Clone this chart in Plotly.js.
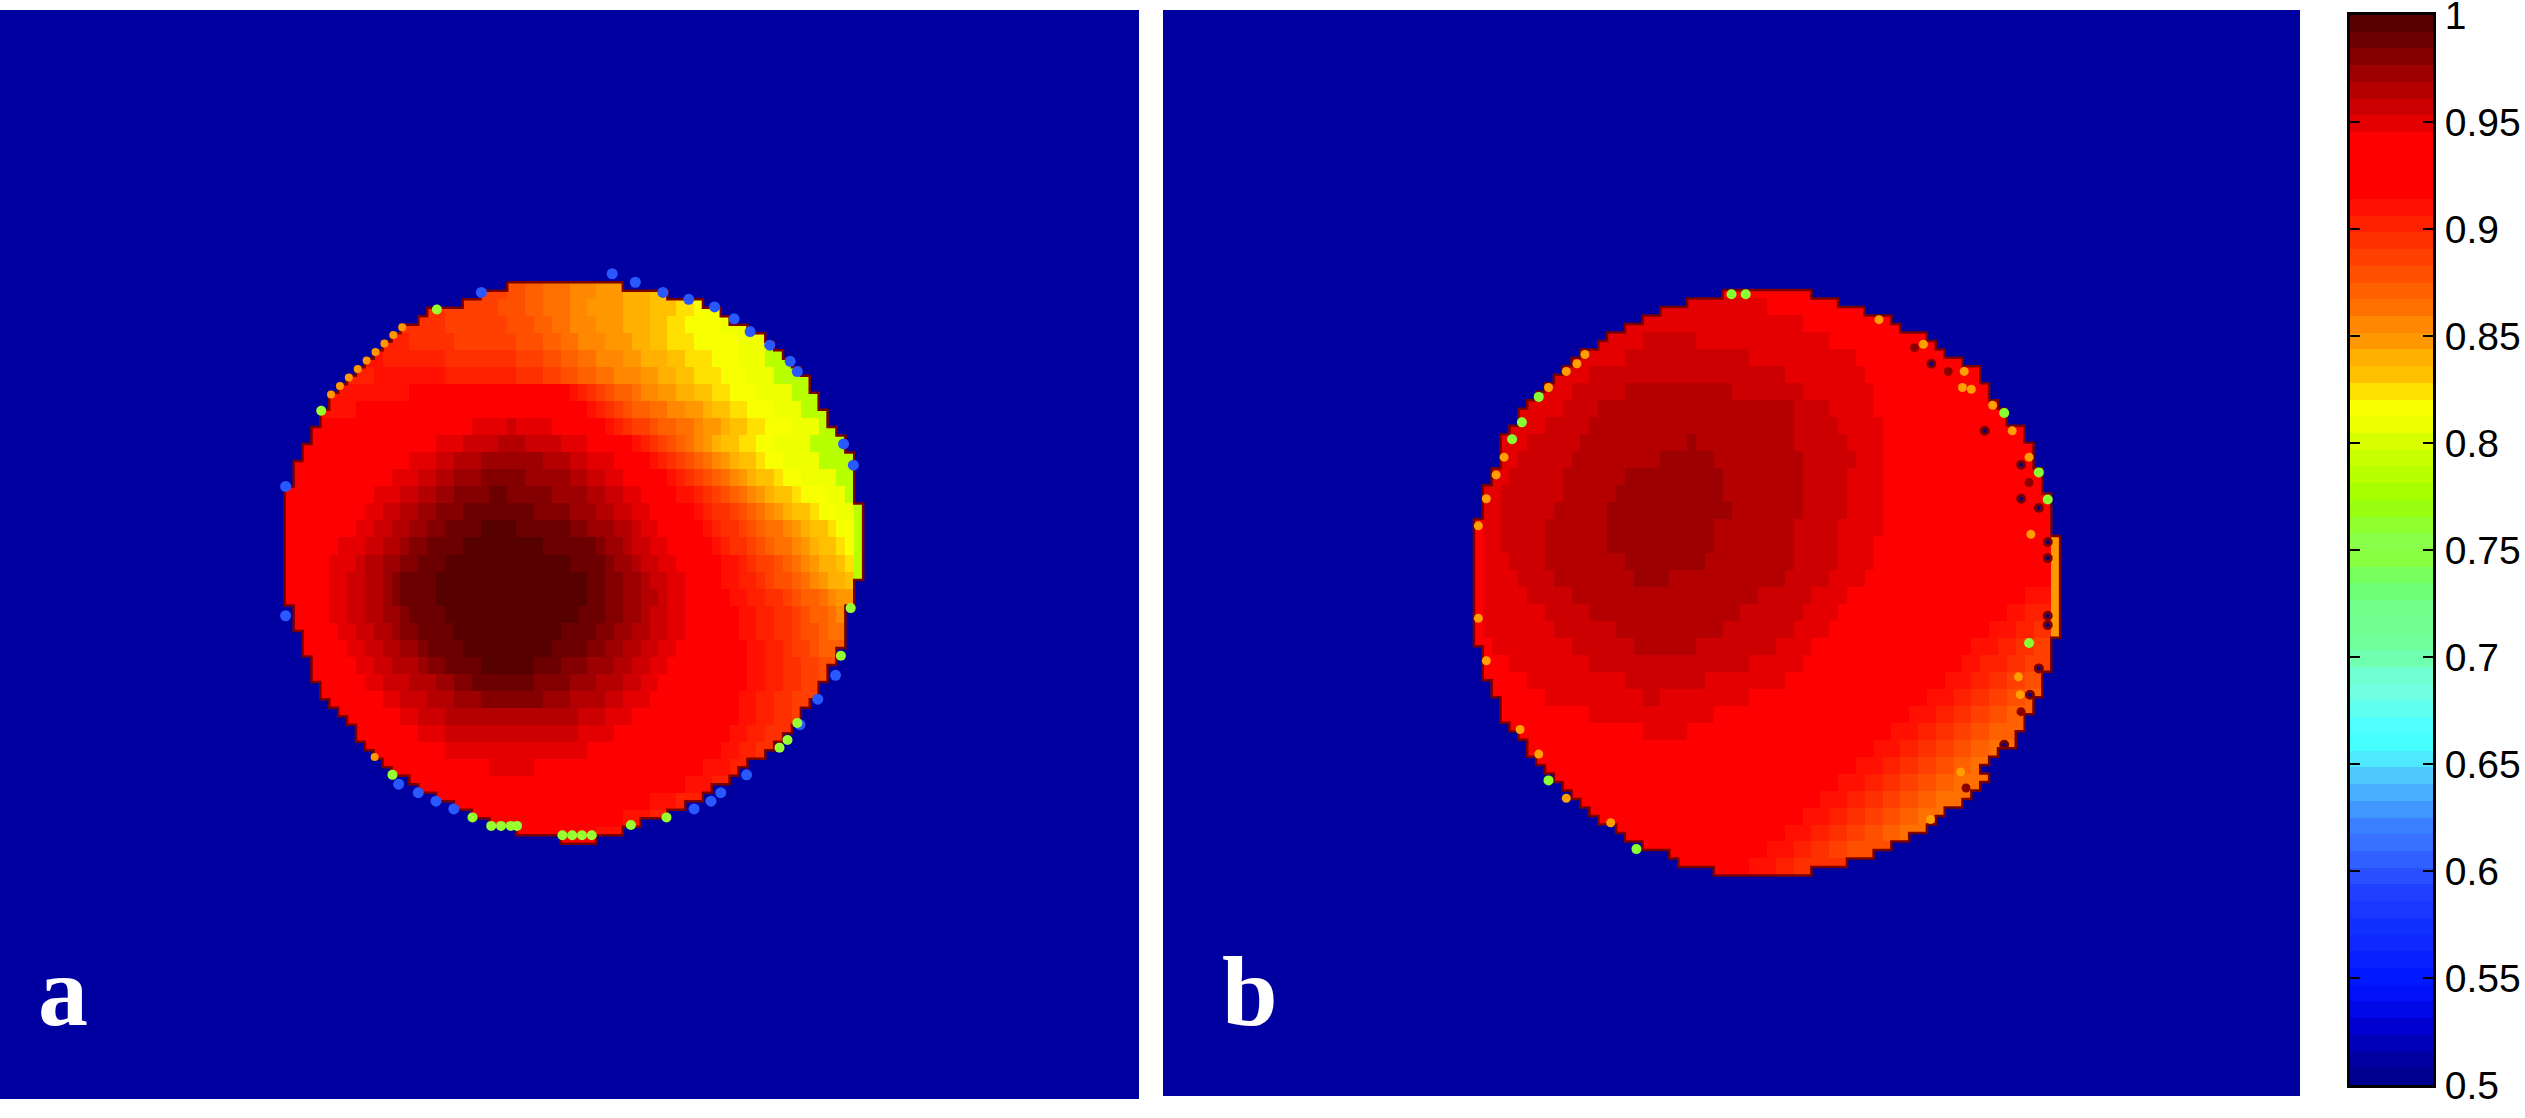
<!DOCTYPE html>
<html>
<head>
<meta charset="utf-8">
<script src="https://cdn.plot.ly/plotly-3.0.1.min.js"></script>
<style>body{margin:0;background:#fff}</style>
</head>
<body>
<div id="plot" style="width:2525px;height:1118px"></div>
<script>
// colour of each of the 64 colorbar bands, bottom (0.5) to top (1)
var bandColors = ["#000090","#0000a0","#0000b8","#0000d0","#0008e8","#0010f8","#0018ff","#0820ff",
  "#1028ff","#1030ff","#1838ff","#2040ff","#2850ff","#3060ff","#3870ff","#3880ff",
  "#4098ff","#48b0ff","#50c8ff","#50e8ff","#48ffff","#50ffff","#60fff0","#70ffe0",
  "#70ffd0","#70ffb0","#70ff98","#70ff90","#70ff88","#70ff78","#78ff60","#88ff40",
  "#88ff48","#90ff30","#98ff10","#a8ff00","#b8ff00","#c8ff00","#d8ff00","#f0ff00",
  "#f8ff00","#ffe000","#ffc000","#ffb000","#ff9800","#ff8800","#ff7000","#ff6000",
  "#ff5000","#ff4000","#ff3000","#ff2000","#ff1000","#ff0000","#ff0000","#ff0000",
  "#ff0000","#e40000","#cc0000","#b40000","#9c0000","#840000","#6c0000","#560000"];
var barTicks = [0.5,0.55,0.6,0.65,0.7,0.75,0.8,0.85,0.9,0.95,1];
var barLabels = ["0.5","0.55","0.6","0.65","0.7","0.75","0.8","0.85","0.9","0.95","1"];

// letters used in the rows below, first letter is band 36
var bandLetters = "ABabcdefghijklmnopqrstuvwxyz";
var backgroundBand = 1;

// panel a: disc outline per image row, first row is 32
var aLeft = [57,54,52,48,47,45,44,43,42,41,40,39,38,37,37,36,36,35,35,34,34,33,33,33,32,
  32,32,32,32,32,32,32,32,32,32,32,32,32,33,33,33,34,34,34,35,35,35,36,36,37,38,39,40,40,41,42,43,44,46,47,49,51,53,55,58,63];
var aRight = [70,75,79,81,82,84,86,87,88,89,90,91,91,92,92,93,93,94,95,95,96,96,96,96,96,96,
  97,97,97,97,97,97,97,97,97,96,96,96,95,95,95,95,95,94,94,93,93,92,92,91,90,90,89,88,87,86,84,83,82,80,79,77,75,72,70,67];
// panel a: colour runs, letter + end column, each line covers two rows from row 32
var aRows = [
"l57 k59 j61 i64 h67 g70 f73 e99",
"m50 l56 k59 j61 i64 h66 g70 f73 e76 d78 c99",
"m50 l57 k60 j62 i64 h67 g70 f73 e75 d77 c81 b99",
"n46 m51 l58 k61 j63 i65 h68 g71 f73 e75 d78 c83 b99",
"o43 n50 m58 l61 k63 j65 i67 h70 g72 f75 e77 d80 c83 b86 A99",
"n42 o50 n58 m61 l63 k65 j67 i69 h72 g74 f76 e78 d81 c84 b87 A99",
"o46 p64 o65 n66 m67 l68 k69 j71 i72 h74 g76 f78 e80 d82 c85 b89 A99",
"o40 p66 o67 n68 m69 l70 k71 j73 i75 h77 g79 f80 e82 d84 c87 b90 A99",
"p53 t57 u58 t62 p68 o69 n70 m71 l73 k74 j76 i78 h79 g81 f82 e84 d86 c89 b92 A99",
"p49 t52 u56 v59 u63 t66 p71 o72 n73 m74 l75 k76 j77 i78 h79 g80 f81 e83 d85 c87 b91 A99",
"p46 t49 u51 v54 w61 v64 u66 t69 p73 o74 n75 m76 l77 k78 j79 i80 h81 g82 f83 e85 d86 c88 b92 A99",
"p44 t47 u49 v51 w54 x59 w64 v66 u68 t70 p75 o76 n77 m78 l79 k80 j81 i82 h83 g84 f85 e87 d88 c90 b94 A99",
"p42 t45 u47 v49 w51 x55 y57 x62 w66 v68 u70 t72 p76 o78 n79 m80 l81 k82 j83 i84 h85 g86 f87 e89 d90 c93 b95 A99",
"p41 t43 u45 v47 w49 x52 y60 x64 w67 v69 u71 t73 p78 o79 n80 m82 l83 k84 j85 i86 h87 g88 f89 e91 d92 c94 b96 A99",
"p40 t42 u44 v46 w48 x50 y54 z58 y64 x66 w69 v71 u72 t74 p79 o80 n81 m83 l84 k85 j86 i88 h89 g90 f91 e93 d94 c96 A99",
"p38 t41 u43 v45 w46 x48 y52 z61 y67 x68 w70 v71 u73 t75 p80 o81 n82 m84 l85 k86 j87 i89 h90 g91 f92 e94 d95 c96 A99",
"p37 t40 u41 v43 w45 x47 y50 z64 y68 x69 w71 v72 u74 t76 p81 o83 n84 m85 l87 k88 j89 i90 h91 g92 f94 e95 d96 A99",
"p37 t39 u41 v43 w44 x45 y49 z66 y68 x70 w72 v73 u75 t77 p81 o83 n85 m86 l87 k89 j90 i91 h92 g93 f95 e96 A99",
"p37 t39 u41 v43 w44 x45 y49 z66 y68 x70 w72 v74 u75 t77 p82 o84 n86 m88 l89 k90 j92 i93 h94 g96 f99",
"p37 t39 u41 v43 w45 x46 y50 z65 y68 x70 w72 v73 u75 t77 p83 o85 n87 m89 l90 k91 j93 i94 h99",
"p38 t40 u42 v44 w45 x47 y51 z63 y67 x69 w71 v73 u75 t77 p83 o85 n87 m89 l90 k92 j93 i99",
"p39 t41 u43 v45 w47 x48 y52 z62 y66 x68 w70 v72 u74 t76 p84 o86 n88 m89 l91 k92 j99",
"p40 t42 u44 v47 w48 x50 y54 z60 y63 x66 w69 v71 u73 t75 p84 o86 n88 m90 l92 k99",
"p41 t43 u46 v49 w51 x53 y60 x64 w67 v70 u72 t74 p84 o86 n88 m90 l92 k99",
"p43 t45 u48 v51 w54 x61 w64 v68 u70 t73 p83 o85 n87 m89 l99",
"p45 t47 u50 v65 u68 t71 p83 o85 n87 m89 l99",
"p47 t50 u65 t69 p82 o84 n86 m99",
"p50 t66 p81 o83 n85 m99",
"p55 t60 p79 o82 n99",
"p77 o80 n99",
"p73 o76 n99",
"p70 o73 n99",
"p67 o99"];
// panel a: small spots on the rim
var aGreenX = [49.1,36.1,44.1,53.1,70.9,74.9,94.5,95.6,89.6,88.5,87.6,55.2,56.3,57.4,58.1,63.2,64.3,65.4,66.5];
var aGreenY = [35.2,47.1,89.9,94.9,95.8,94.9,75.9,70.3,83.8,85.8,86.7,95.9,95.9,95.9,95.9,97,97,97,97];
var aOrangeX = [45.2,44.2,43.2,42.2,41.2,40.2,39.2,38.2,37.2,42.1];
var aOrangeY = [37.3,38.2,39.2,40.2,41.2,42.2,43.2,44.2,45.2,87.8];
var aBlueX = [54.1,32.1,32.1,47,49,51,93.9,91.9,89.9,83.9,81,79.9,78,44.8,68.8,71.4,74.5,77.4,80.3,82.5,84.3,86.5,88.8,89.6,94.8,95.9];
var aBlueY = [33.2,56,71.2,92,93,93.9,78.2,81,84,89.9,92,93,93.9,91,31,32,33.2,34,34.9,36.3,37.8,39.4,41.3,42.5,51,53.5];

// panel b: disc outline per image row, first row is 33
var bLeft = [63,59,56,54,52,50,49,47,46,45,44,43,42,41,40,40,39,38,38,38,38,37,37,36,36,36,36,
  35,35,35,35,35,35,35,35,35,35,35,35,35,35,35,36,36,36,36,37,37,38,38,38,39,40,41,41,42,43,44,45,46,47,48,49,51,52,54,57,58,62];
var bRight = [73,76,79,82,83,86,87,88,90,92,92,93,93,94,95,95,97,97,98,98,98,99,99,99,100,100,100,100,100,
  101,101,101,101,101,101,101,101,101,101,101,101,100,100,100,100,99,99,99,98,98,97,97,96,96,94,93,92,93,92,91,90,88,87,86,84,82,80,77,73];
// panel b: colour runs, each line covers two rows from row 32
var bRows = [
"p99",
"t68 p99",
"t72 p99",
"t54 u60 t75 p99",
"t52 u66 t78 p99",
"t48 u70 t79 p99",
"t46 u52 v64 u72 t80 p99",
"t45 u49 v71 u75 t80 p99",
"t43 u48 v71 u76 t81 p99",
"t41 u47 v59 w60 v71 u77 t81 p99",
"t40 u46 v56 w62 v72 u78 t81 p99",
"t39 u45 v52 w63 v72 u77 t81 p99",
"t38 u45 v51 w63 v72 u77 t81 p99",
"t38 u44 v50 w64 v72 u77 t81 p99",
"p36 t38 u43 v50 w62 v71 u76 t81 p99",
"p36 t38 u43 v50 w62 v71 u76 t80 p100 g102",
"p36 t39 u43 v52 w61 v71 u76 t80 p100 g102",
"p36 t40 u44 v53 w57 v70 u75 t79 p100 g102",
"p36 t41 u46 v67 u73 t77 p97 o100 g102",
"p36 t43 u48 v65 u72 t76 p95 o97 n100 g102",
"p36 t44 u51 v63 u71 t75 p93 o96 n98 m100 g102",
"p37 t46 u53 v60 u69 t73 p91 o94 n96 m98 l99",
"p39 t48 u66 t72 p90 o92 n95 m97 l99",
"p41 t52 u61 t70 p88 o91 n93 m95 l97 k99",
"p43 t54 u56 t66 p86 o89 n91 m93 l95 k97 j99",
"p48 t62 p84 o87 n89 m91 l93 k95 j99",
"p54 t59 p82 o85 n87 m89 l91 k93 j99",
"p80 o83 n85 m87 l89 k91 j93 i99",
"p78 o81 n83 m85 l87 k89 j91 i99",
"p76 o79 n81 m83 l85 k87 j89 i99",
"p74 o77 n79 m81 l83 k85 j87 i99",
"p72 o75 n77 m79 l81 k83 j85 i99",
"p70 o73 n75 m77 l79 k81 j83 i99",
"p68 o71 n73 m75 l77 k99",
"p66 o69 n71 m99"];
// panel b: small spots on the rim
var bGreenX = [65.6,64,42.3,40.4,39.3,94.7,98.6,99.6,97.5,43.4,53.3];
var bGreenY = [33.5,33.5,45.6,48.6,50.6,47.5,54.5,57.7,74.6,90.8,98.9];
var bOrangeX = [80.6,85.6,90.2,90,91,93.4,95.6,97.5,97.7,36.4,35.5,35.5,36.4,40.2,42.3,45.4,50.4,96.3,96.5,86.4,89.8,43.4,45.4,46.6,47.5,38.4,37.5];
var bOrangeY = [36.5,39.4,42.6,44.5,44.7,46.6,49.6,52.7,61.8,57.6,60.8,71.7,76.7,84.8,87.7,92.9,95.8,78.6,80.7,95.4,89.8,44.5,42.6,41.7,40.6,52.7,54.8];
var bDarkX = [88.4,84.6,97.5,96.6,90.4];
var bDarkY = [42.6,39.8,55.7,82.7,91.7];
var bHoleX = [86.5,92.5,96.6,96.6,98.6,99.6,99.6,99.6,99.6,98.6,97.6,94.7];
var bHoleY = [41.7,49.6,53.6,57.6,58.7,62.7,64.6,71.4,72.5,77.6,80.7,86.6];

var W = 2525, H = 1118, gridSize = 128, zMin = 0.5, zMax = 1;

function bandValue(band) {
  return zMin + (band + 0.5) / bandColors.length * (zMax - zMin);
}

var colorscale = [];
bandColors.forEach(function (c, i) {
  colorscale.push([i / bandColors.length, c]);
  colorscale.push([(i + 1) / bandColors.length, c]);
});

// expand the rows of colour runs into the full image, clipped to the disc outline
function buildImage(left, right, firstRow, runRows) {
  var z = [];
  for (var r = 0; r < gridSize; r++) {
    var row = [];
    for (var c = 0; c < gridSize; c++) row.push(bandValue(backgroundBand));
    z.push(row);
  }
  left.forEach(function (l, i) {
    var r = firstRow + i;
    var runs = runRows[(r - 32) >> 1].split(" ");
    var start = 0;
    runs.forEach(function (run, k) {
      var value = bandValue(36 + bandLetters.indexOf(run[0]));
      var end = k === runs.length - 1 ? gridSize : +run.slice(1);
      for (var c = Math.max(start, l); c < Math.min(end, right[i]); c++) z[r][c] = value;
      start = end;
    });
  });
  return z;
}

// dark rim round the disc
function rimLine(left, right, firstRow) {
  var x = [], y = [];
  left.forEach(function (l, i) {
    x.push(l, l); y.push(firstRow + i, firstRow + i + 1);
  });
  for (var i = right.length - 1; i >= 0; i--) {
    x.push(right[i], right[i]); y.push(firstRow + i + 1, firstRow + i);
  }
  x.push(x[0]); y.push(y[0]);
  return {x: x, y: y};
}

function panelTraces(z, rim, spots, xa, ya) {
  var traces = [{
    type: "heatmap", z: z, x0: 0.5, dx: 1, y0: 0.5, dy: 1, xaxis: xa, yaxis: ya,
    zmin: zMin, zmax: zMax, colorscale: colorscale, showscale: false, hoverinfo: "skip"
  }, {
    type: "scatter", mode: "lines", x: rim.x, y: rim.y, xaxis: xa, yaxis: ya,
    line: {color: "#7a0000", width: 2.5}, hoverinfo: "skip"
  }];
  spots.forEach(function (s) {
    traces.push({
      type: "scatter", mode: "markers", x: s.x, y: s.y, xaxis: xa, yaxis: ya,
      marker: {size: s.size, color: s.color, line: s.line || {width: 0}}, hoverinfo: "skip"
    });
  });
  return traces;
}

var data = panelTraces(buildImage(aLeft, aRight, 32, aRows), rimLine(aLeft, aRight, 32), [
  {x: aBlueX, y: aBlueY, size: 11, color: "#2a58ff"},
  {x: aOrangeX, y: aOrangeY, size: 8, color: "#ff9800"},
  {x: aGreenX, y: aGreenY, size: 10, color: "#98ff30"}
], "x", "y").concat(panelTraces(buildImage(bLeft, bRight, 33, bRows), rimLine(bLeft, bRight, 33), [
  {x: bOrangeX, y: bOrangeY, size: 9, color: "#ffa000"},
  {x: bDarkX, y: bDarkY, size: 9, color: "#8a0000"},
  {x: bHoleX, y: bHoleY, size: 7, color: "#000090", line: {color: "#7a0000", width: 3}},
  {x: bGreenX, y: bGreenY, size: 10, color: "#88ff30"}
], "x2", "y2"));

// colorbar, one cell per band
var barZ = [], barY = [];
bandColors.forEach(function (c, i) {
  barZ.push([bandValue(i)]);
  barY.push(bandValue(i));
});
data.push({
  type: "heatmap", z: barZ, y: barY, x: [0], xaxis: "x3", yaxis: "y3",
  zmin: zMin, zmax: zMax, colorscale: colorscale, showscale: false, hoverinfo: "skip"
});

function hiddenAxis(range, domain, anchor) {
  return {range: range, domain: domain, anchor: anchor, visible: false, fixedrange: true};
}

var layout = {
  width: W, height: H,
  margin: {l: 0, r: 0, t: 0, b: 0},
  paper_bgcolor: "#fff", plot_bgcolor: "#fff",
  showlegend: false,
  xaxis: hiddenAxis([0, gridSize], [0, 1139 / W], "y"),
  yaxis: hiddenAxis([gridSize, 0], [1 - 1099 / H, 1 - 10 / H], "x"),
  xaxis2: hiddenAxis([0, gridSize], [1163 / W, 2300 / W], "y2"),
  yaxis2: hiddenAxis([gridSize, 0], [1 - 1096 / H, 1 - 10 / H], "x2"),
  xaxis3: {
    range: [-0.5, 0.5], domain: [2350 / W, 2433 / W], anchor: "y3",
    showticklabels: false, ticks: "", showgrid: false, zeroline: false,
    showline: true, linecolor: "#000", linewidth: 3, mirror: true
  },
  yaxis3: {
    range: [zMin, zMax], domain: [1 - 1085 / H, 1 - 15 / H], anchor: "x3", side: "right",
    tickmode: "array", tickvals: barTicks, ticktext: barLabels,
    ticks: "inside", ticklen: 10, tickwidth: 2, tickcolor: "#000",
    showgrid: false, zeroline: false, showline: true, linecolor: "#000", linewidth: 3, mirror: "ticks",
    ticklabelstandoff: 1, ticklabeloverflow: "allow",
    tickfont: {family: "Liberation Sans, Arial, sans-serif", size: 39, color: "#000"}
  },
  annotations: [
    {text: "<b>a</b>", xref: "paper", yref: "paper", x: 36 / W, y: 1 - 1049 / H, xanchor: "left", yanchor: "bottom",
     showarrow: false, font: {family: "Liberation Serif, serif", size: 100, color: "#fff"}},
    {text: "<b>b</b>", xref: "paper", yref: "paper", x: 1220 / W, y: 1 - 1049 / H, xanchor: "left", yanchor: "bottom",
     showarrow: false, font: {family: "Liberation Serif, serif", size: 100, color: "#fff"}}
  ]
};

Plotly.newPlot("plot", data, layout, {displayModeBar: false, staticPlot: true});
</script>
</body>
</html>
